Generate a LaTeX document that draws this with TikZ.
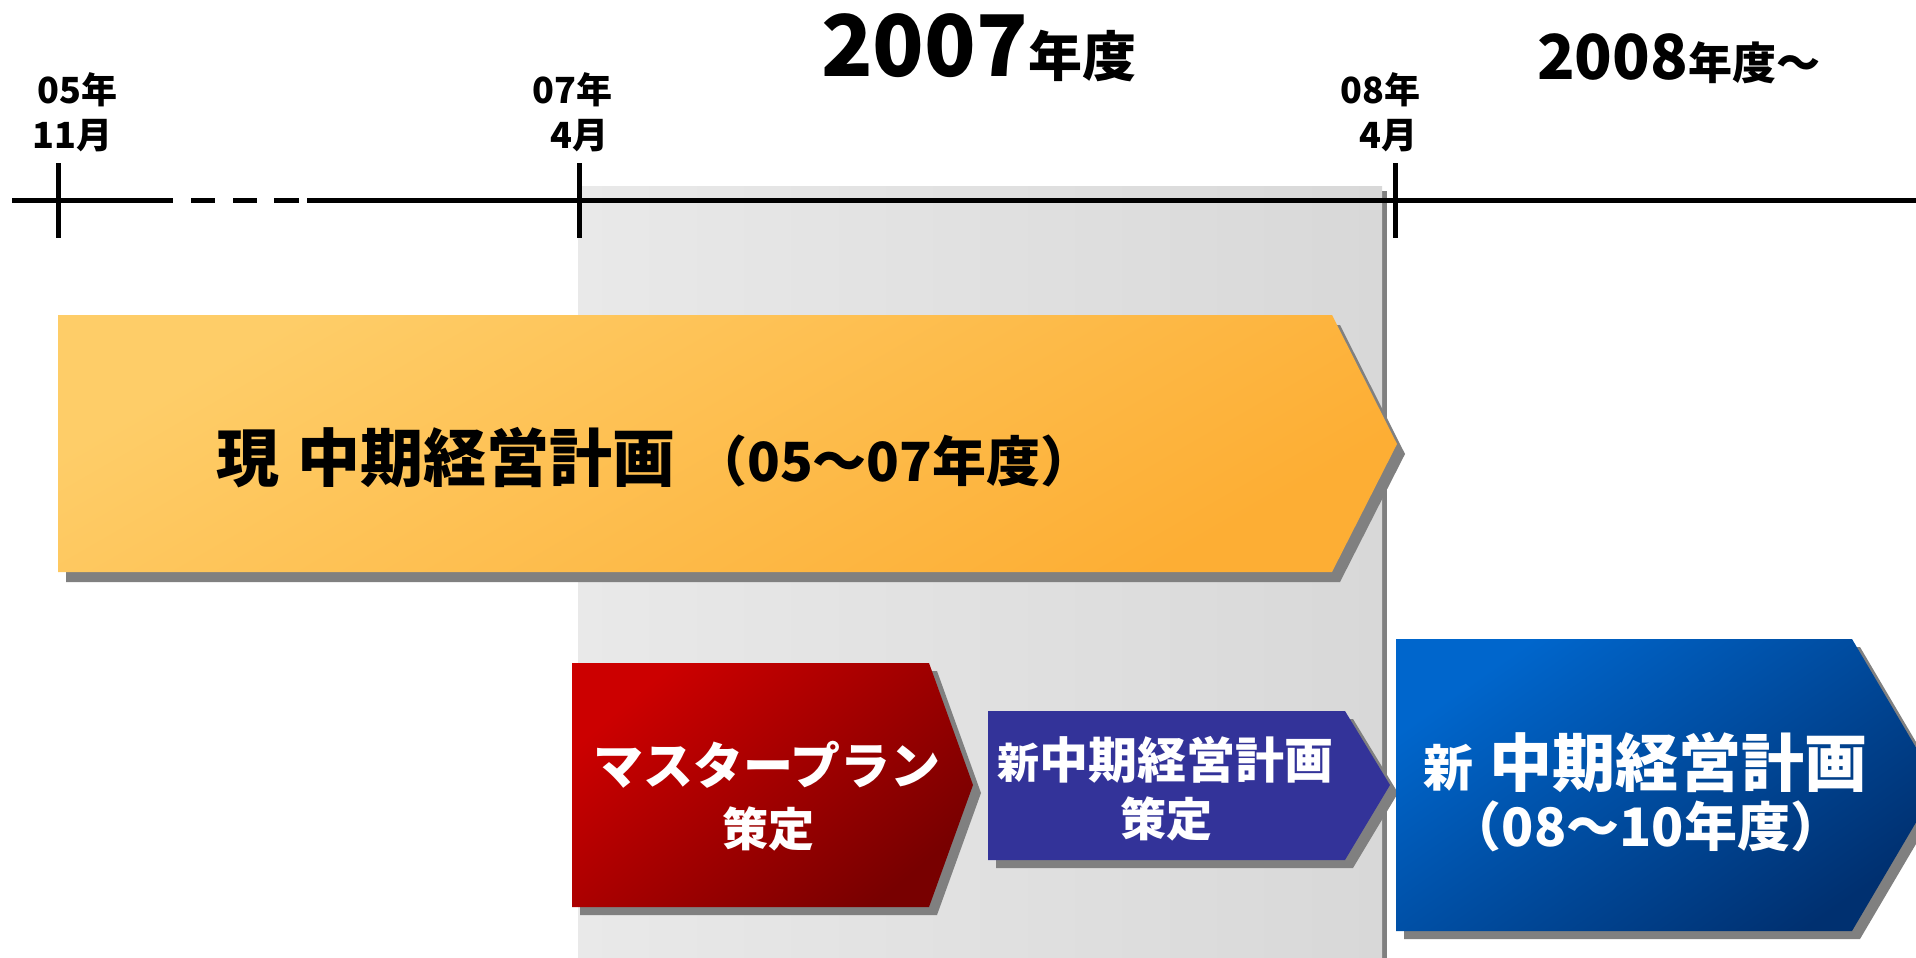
\documentclass[tikz,border=0pt]{standalone}
\usepackage{fontspec}
\setmainfont{Noto Sans CJK JP}
\definecolor{shadowgray}{RGB}{128,128,128}
\definecolor{bandL}{RGB}{233,233,233}
\definecolor{bandR}{RGB}{216,216,216}
\definecolor{orangeA}{RGB}{254,205,104}
\definecolor{orangeB}{RGB}{253,174,52}
\definecolor{redA}{RGB}{204,0,0}
\definecolor{redB}{RGB}{120,0,0}
\definecolor{purpleA}{RGB}{51,51,153}
\definecolor{blueA}{RGB}{0,102,204}
\definecolor{blueB}{RGB}{0,48,112}
\newcommand{\fs}[1]{\fontsize{#1}{#1}\selectfont}
\begin{document}
\begin{tikzpicture}[x=1pt,y=-1pt,
  axisline/.style={line width=5pt,black},
  tickmark/.style={line width=5pt,black},
  shadowfill/.style={fill=shadowgray},
  datelbl/.style={font=\bfseries\fs{36}, inner sep=0pt, anchor=base east},
  title/.style={font=\bfseries, inner sep=0pt, anchor=base west},
  whitetxt/.style={text=white, inner sep=0pt, anchor=base, font=\bfseries},
  blacktxt/.style={text=black, inner sep=0pt, anchor=base west, font=\bfseries}]
\clip (0,0) rectangle (1916,958);
\fill[white] (0,0) rectangle (1916,958);

% shaded band for FY2007
\fill[shadowgray] (583,191) rectangle (1387,958);
\shade[left color=bandL, right color=bandR] (578,186) rectangle (1382,958);

% time axis
\draw[axisline] (12,200) -- (173,200);
\draw[axisline] (191,200) -- (215,200);
\draw[axisline] (233,200) -- (257,200);
\draw[axisline] (274,200) -- (299,200);
\draw[axisline] (307,200) -- (1916,200);
\coordinate (t1a) at (58,163); \coordinate (t1b) at (58,238);
\coordinate (t2a) at (579,163); \coordinate (t2b) at (579,238);
\coordinate (t3a) at (1395,163); \coordinate (t3b) at (1395,238);
\draw[tickmark] (t1a) -- (t1b);
\draw[tickmark] (t2a) -- (t2b);
\draw[tickmark] (t3a) -- (t3b);

% date labels
\node[datelbl] (d1a) at (118,103) {05年};
\node[datelbl] (d1b) at (113,148) {11月};
\node[datelbl] (d2a) at (613,103) {07年};
\node[datelbl] (d2b) at (609,148) {4月};
\node[datelbl] (d3a) at (1421,103) {08年};
\node[datelbl] (d3b) at (1418,148) {4月};

% year titles
\node[title] (fy07) at (821,77) {{\fs{85}2007}{\fs{54}年度}};
\node[title] (fy08) at (1537,80) {{\fs{62}2008}{\fs{44}年度～}};

% current plan (orange)
\fill[shadowfill] (66,325) -- (1340,325) -- (1405,454) -- (1340,582) -- (66,582) -- cycle;
\shade[top color=orangeA, bottom color=orangeB, shading angle=30]
  (58,315) -- (1332,315) -- (1397,444) -- (1332,572) -- (58,572) -- cycle;
\node[blacktxt] (cur) at (216,481) {{\fs{63}現\hspace{18pt}中期経営計画}\hspace{18pt}{\fs{54}（05～07年度）}};

% master plan (red)
\fill[shadowfill] (580,671) -- (937,671) -- (981,793) -- (937,915) -- (580,915) -- cycle;
\shade[top color=redA, bottom color=redB, shading angle=40]
  (572,663) -- (929,663) -- (973,785) -- (929,907) -- (572,907) -- cycle;
\node[whitetxt] (mp1) at (767,784) {\fs{50}マスタープラン};
\node[whitetxt] (mp2) at (768,846) {\fs{46}策定};

% new plan formulation (purple)
\fill[shadowfill] (996,719) -- (1353,719) -- (1398,793) -- (1353,868) -- (996,868) -- cycle;
\fill[purpleA] (988,711) -- (1345,711) -- (1390,785) -- (1345,860) -- (988,860) -- cycle;
\node[whitetxt] (np1) at (1165,778) {{\fs{42}新}{\fs{49}中期経営計画}};
\node[whitetxt] (np2) at (1166,836) {\fs{46}策定};

% new plan (blue)
\fill[shadowfill] (1404,647) -- (1860,647) -- (1946,793) -- (1860,939) -- (1404,939) -- cycle;
\shade[top color=blueA, bottom color=blueB, shading angle=35]
  (1396,639) -- (1852,639) -- (1938,785) -- (1852,931) -- (1396,931) -- cycle;
\node[whitetxt] (nb1) at (1645,786) {{\fs{50}新}\hspace{16pt}{\fs{63}中期経営計画}};
\node[whitetxt] (nb2) at (1646,846) {\fs{53}（08～10年度）};
\end{tikzpicture}
\end{document}
